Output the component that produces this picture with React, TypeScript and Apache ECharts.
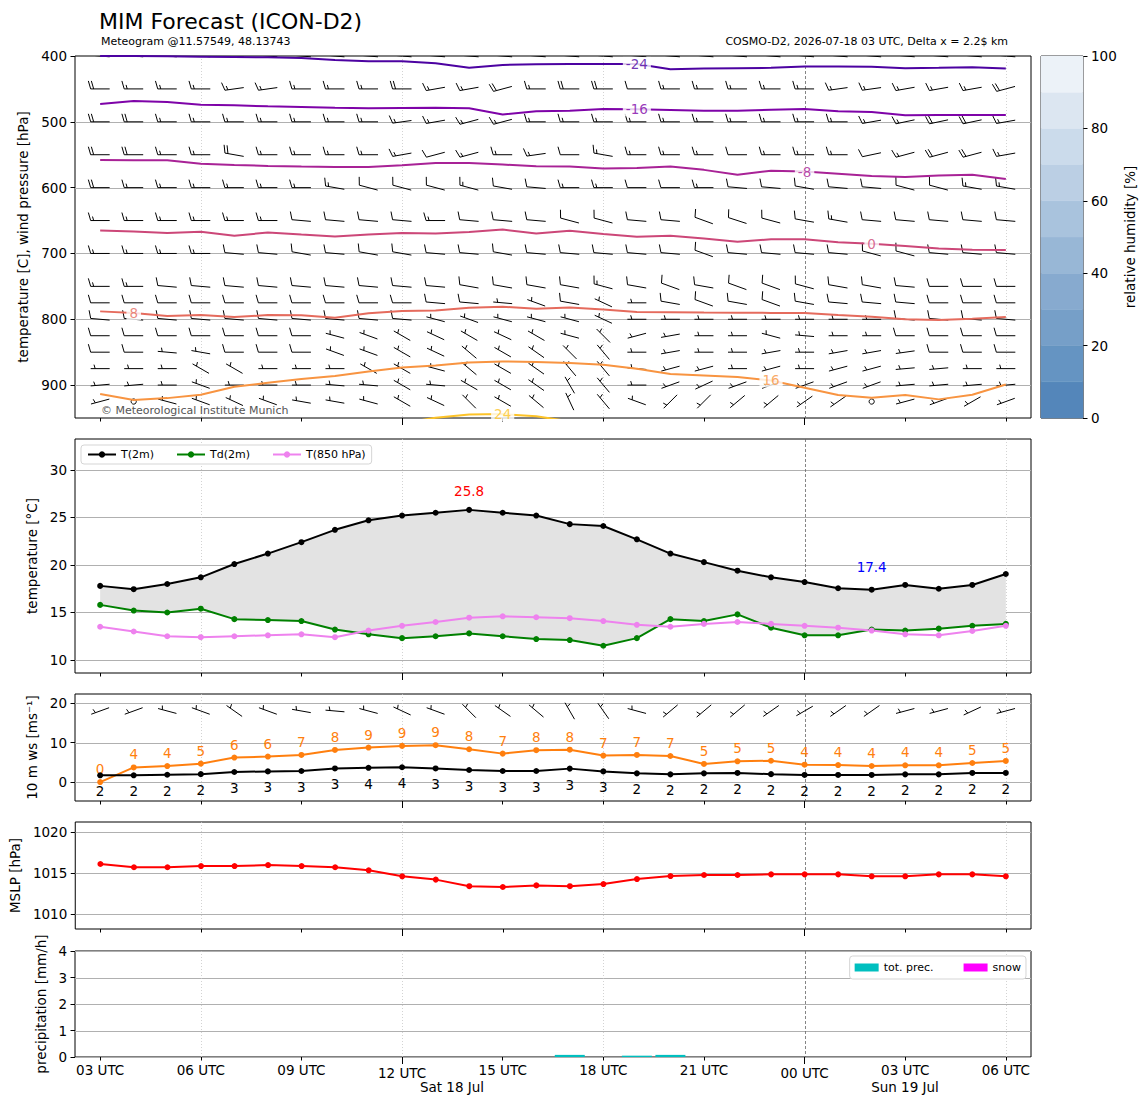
import React, { useEffect, useRef } from "react";
import * as echarts from "echarts";

const FONT = "DejaVu Sans";

// ---------- time axis ----------
const HOURS = [0,1,2,3,4,5,6,7,8,9,10,11,12,13,14,15,16,17,18,19,20,21,22,23,24,25,26,27];
const X_MIN = -0.75;
const X_MAX = 27.75;
const xMinorTickHours = [0, 3, 6, 12, 15, 18, 24, 27];
const xMajorTickHours = [9, 21];
const xLabelHours = [0, 3, 6, 9, 12, 15, 18, 21, 24, 27];
const xLabelTexts = ["03 UTC","06 UTC","09 UTC","12 UTC","15 UTC","18 UTC","21 UTC","00 UTC","03 UTC","06 UTC"];
const vGridDotted = [3, 9, 15, 27];
const vGridDashed = [21];

// ---------- tick values ----------
const pTicks = [400, 500, 600, 700, 800, 900];
const pGrid = [500, 600, 700, 800, 900];
const tTicks = [10, 15, 20, 25, 30];
const wsTicks = [0, 10, 20];
const mslpTicks = [1010, 1015, 1020];
const prTicks = [0, 1, 2, 3, 4];
const rhTicks = [0, 20, 40, 60, 80, 100];

// ---------- surface series ----------
const t2m = [17.8,17.45,18.0,18.7,20.1,21.2,22.4,23.7,24.7,25.2,25.5,25.8,25.5,25.2,24.3,24.1,22.7,21.2,20.3,19.4,18.7,18.2,17.55,17.4,17.9,17.5,17.9,19.05];
const td2m = [15.8,15.2,15.0,15.4,14.3,14.2,14.1,13.2,12.7,12.3,12.5,12.8,12.5,12.2,12.1,11.5,12.3,14.3,14.1,14.8,13.4,12.6,12.6,13.2,13.1,13.3,13.6,13.8];
const t850 = [13.5,13.0,12.5,12.4,12.5,12.6,12.7,12.4,13.1,13.6,14.0,14.45,14.6,14.5,14.4,14.1,13.7,13.5,13.8,14.0,13.8,13.6,13.4,13.1,12.7,12.6,13.05,13.6];
const tMaxIdx = 11;
const tMinIdx = 23;

const ws10 = [1.7,1.7,1.85,2.0,2.55,2.7,2.8,3.45,3.6,3.75,3.45,3.05,2.8,2.8,3.4,2.7,2.2,1.95,2.2,2.3,2.0,1.8,1.8,1.8,1.95,1.95,2.3,2.3];
const gust10 = [0.0,3.7,4.05,4.66,6.2,6.45,6.87,8.14,8.73,9.16,9.33,8.3,7.2,8.07,8.2,6.7,6.87,6.6,4.58,5.26,5.4,4.4,4.3,4.07,4.24,4.24,4.83,5.34];
const w10dir = [250,250,285,290,305,290,280,275,285,295,290,315,305,310,330,325,285,230,230,230,235,240,235,235,255,255,245,255];
const w10kt = [5,5,5,5,5,5,5,5,5,5,5,5,5,5,5,5,5,5,5,5,5,5,5,5,5,5,5,5];
const w10BarbLevel = 18;

const mslp = [1016.1,1015.7,1015.7,1015.85,1015.85,1015.97,1015.85,1015.7,1015.33,1014.6,1014.2,1013.4,1013.3,1013.5,1013.4,1013.66,1014.27,1014.63,1014.76,1014.76,1014.84,1014.84,1014.84,1014.6,1014.6,1014.84,1014.84,1014.6];

const precip = [0,0,0,0,0,0,0,0,0,0,0,0,0,0,0.08,0,0.05,0.08,0,0,0,0,0,0,0,0,0,0];
const snow = [0,0,0,0,0,0,0,0,0,0,0,0,0,0,0,0,0,0,0,0,0,0,0,0,0,0,0,0];

// ---------- temperature contours (pressure of isotherm per hour) ----------
const cM24 = [400,400,400.5,401,401.5,402,403,406,408,408,411,418,413.5,412.5,412,412,412,420,419,418.5,418,416,416,416.5,418.5,418,417,419];
const cM16 = [473,468.4,470,474,475,476.4,477.5,478.6,479.5,479,478.6,479.5,489,484,483,480.5,481,482,483,483,481.6,480.5,484,485,490,489.7,489.7,489.7];
const cM8 = [558,558.4,558.5,563.7,565.6,567,568,568.7,568.7,566,562.6,562.6,565,567.6,568,571,570,568,573,580.4,574.3,575.5,579,582.4,584,581.6,580.4,587];
const c0 = [665.2,666.7,669,667,673,668.2,671.3,674.3,671.3,669,669.8,667.5,663.7,669.8,665.5,670.5,674.6,673,677.4,682.2,678.6,678.6,683,685.3,688.8,692.5,694.5,694.8];
const c8 = [788,790.6,795,793.6,796.7,793.6,794,797.7,791,787.5,786.5,782.5,781,784,782,785,789,789.4,789.8,790,790.3,790.6,793.6,796,800,801.2,799.2,796.7];
const c16 = [913.7,922.8,919.8,914.7,902.6,896.5,890.9,886.3,879.2,873.1,870.1,865.5,864,865,866.6,869.2,875.2,883.3,885.3,887.8,893,904,915.2,919.3,915.2,921.7,914.7,899];
const c24 = [null,null,null,null,null,null,null,null,null,958,949.6,944.5,944,947.5,955,null,null,null,null,null,null,null,null,null,null,null,null,null];
const contourLevels = [-24, -16, -8, 0, 8, 16, 24];
const contourColors = ["#4c02a1", "#7e03a8", "#a82296", "#cc4778", "#e56b5d", "#f89441", "#fdc328"];
const contourLabelHour = [16, 16, 21, 23, 1, 20, 12];

// ---------- upper-air winds (direction deg, speed kt) ----------
const windLevels = [400, 450, 500, 550, 600, 650, 700, 750, 775, 800, 825, 850, 875, 900, 925];
const wdir400 = [275,275,275,275,275,275,275,275,275,275,275,275,275,275,275,275,275,275,275,275,275,275,275,275,275,275,275,275];
const wspd400 = [30,30,30,30,30,30,30,30,30,30,30,30,30,30,30,30,30,30,30,30,30,30,30,30,30,30,30,30];
const wdir450 = [270,270,270,270,262,262,270,270,270,270,260,260,255,270,270,270,270,270,270,270,270,270,262,262,260,260,260,255];
const wspd450 = [20,15,15,15,15,15,15,15,15,20,15,15,20,15,20,20,10,15,15,15,15,15,15,15,15,15,15,20];
const wdir500 = [270,270,270,270,270,270,270,270,270,262,260,255,255,270,270,270,270,270,270,270,270,270,270,260,258,258,258,260];
const wspd500 = [20,20,15,15,15,15,15,15,15,15,15,15,15,15,15,15,15,15,15,15,15,15,15,15,15,20,20,15];
const wdir550 = [270,270,270,270,280,270,270,270,270,260,255,255,270,262,270,280,270,270,270,270,270,270,270,258,255,255,255,260];
const wspd550 = [20,20,15,15,20,15,15,15,15,15,10,15,15,15,10,15,15,15,15,10,15,15,15,10,15,20,20,15];
const wdir600 = [270,270,270,270,270,270,270,280,285,285,285,285,280,275,270,270,270,270,270,275,275,280,275,275,285,285,280,280];
const wspd600 = [20,15,15,15,15,15,15,15,10,10,10,15,10,10,15,15,10,10,15,10,10,10,10,10,10,10,15,15];
const wdir650 = [270,270,270,270,270,270,275,275,275,275,270,275,275,275,285,285,275,275,290,288,285,280,280,275,275,275,275,275];
const wspd650 = [15,15,15,15,15,15,10,10,10,10,15,10,10,10,10,10,10,10,10,10,10,10,15,10,10,10,10,10];
const wdir700 = [270,270,270,270,275,275,280,275,280,280,275,275,280,275,275,275,275,275,290,275,275,275,275,285,285,275,275,275];
const wspd700 = [15,15,15,15,10,10,10,10,10,10,10,10,10,10,10,10,10,10,10,10,10,10,10,10,10,10,10,10];
const wdir750 = [270,270,275,275,275,275,275,275,275,275,275,280,280,280,280,285,280,290,280,290,290,285,280,280,275,270,270,270];
const wspd750 = [15,15,10,10,10,10,10,10,10,10,10,10,10,10,10,15,10,10,10,10,10,10,10,10,10,10,10,10];
const wdir775 = [270,270,270,270,270,270,270,270,270,270,275,275,275,290,280,295,270,280,290,280,290,280,275,275,275,270,270,270];
const wspd775 = [10,10,10,10,10,10,10,10,10,10,10,10,5,5,10,5,5,10,10,10,10,10,10,10,10,10,10,10];
const wdir800 = [275,275,275,275,275,275,275,275,275,275,285,290,285,285,285,295,270,270,270,270,270,270,270,270,275,275,275,275];
const wspd800 = [10,10,10,10,10,10,10,10,10,10,5,5,5,5,5,5,5,5,5,5,5,5,5,5,10,10,10,10];
const wdir825 = [270,270,270,270,270,270,270,285,290,300,295,300,295,300,285,315,255,260,270,270,285,275,270,270,270,270,270,270];
const wspd825 = [10,10,10,10,10,10,10,5,5,5,5,5,5,5,5,5,5,5,5,5,5,5,5,5,10,10,10,10];
const wdir850 = [270,270,275,280,270,270,270,290,290,300,295,310,300,305,315,320,270,260,270,270,260,270,260,260,262,270,270,270];
const wspd850 = [10,10,5,5,10,10,10,5,5,5,5,5,5,5,5,5,5,5,5,5,5,5,5,5,5,10,10,10];
const wdir875 = [270,270,270,300,300,270,270,270,300,300,285,310,300,305,320,320,275,255,255,270,255,270,255,255,265,265,270,270];
const wspd875 = [5,5,5,5,5,5,5,5,5,5,5,5,5,5,5,5,5,5,5,5,5,5,5,5,5,5,5,5];
const wdir900 = [265,265,270,290,270,270,270,275,275,300,275,300,300,305,330,320,270,250,245,250,250,250,250,250,265,265,265,265];
const wspd900 = [5,5,5,5,5,5,5,5,5,5,5,5,5,5,5,5,5,5,5,5,5,5,5,5,5,5,5,5];
const wdir925 = [255,0,285,290,295,290,280,280,285,300,295,315,300,310,335,320,290,225,225,230,230,235,235,0,255,250,240,250];
const wspd925 = [5,0,5,5,5,5,5,5,5,5,5,5,5,5,5,5,5,5,5,5,5,5,5,0,5,5,5,5];

const windDirRows = [wdir400, wdir450, wdir500, wdir550, wdir600, wdir650, wdir700, wdir750, wdir775, wdir800, wdir825, wdir850, wdir875, wdir900, wdir925];
const windSpdRows = [wspd400, wspd450, wspd500, wspd550, wspd600, wspd650, wspd700, wspd750, wspd775, wspd800, wspd825, wspd850, wspd875, wspd900, wspd925];

// ---------- relative humidity colorbar ----------
const rhBounds = [0, 10, 20, 30, 40, 50, 60, 70, 80, 90, 100];
const rhColors = ["#5486ba", "#6594c2", "#769fc8", "#87aacf", "#98b7d6", "#a9c3dd", "#bbcfe4", "#cbdbeb", "#dce6f1", "#ecf2f8"];

// ---------- helpers ----------
function barbChildren(cx: number, cy: number, dir: number, spd: number) {
  const L = 19, H = 8, W = 2.3, S = 3;
  const st = { stroke: "#000", lineWidth: 1, fill: "none" };
  if (spd < 2.5) return [{ type: "circle", shape: { cx, cy, r: 2.6 }, style: st }];
  const r = (dir * Math.PI) / 180;
  const ux = Math.sin(r), uy = -Math.cos(r);
  const nx = -uy, ny = ux;
  const bx = cx + (ux * L) / 2, by = cy + (uy * L) / 2;
  const ax = cx - (ux * L) / 2, ay = cy - (uy * L) / 2;
  const kids: any[] = [{ type: "line", shape: { x1: ax, y1: ay, x2: bx, y2: by }, style: st }];
  let rem = Math.round(spd / 5) * 5;
  const flags = Math.floor(rem / 50); rem -= flags * 50;
  const full = Math.floor(rem / 10); rem -= full * 10;
  const half = rem >= 5 ? 1 : 0;
  let pos = 0;
  for (let i = 0; i < flags; i++) {
    const px = bx - ux * pos, py = by - uy * pos;
    const qx = bx - ux * (pos + 2 * S), qy = by - uy * (pos + 2 * S);
    kids.push({ type: "polygon", shape: { points: [[px, py], [px + nx * H, py + ny * H], [qx, qy]] }, style: { fill: "#000", stroke: "#000", lineWidth: 1 } });
    pos += 2.5 * S;
  }
  for (let i = 0; i < full; i++) {
    const px = bx - ux * pos, py = by - uy * pos;
    kids.push({ type: "line", shape: { x1: px, y1: py, x2: px + nx * H + ux * W, y2: py + ny * H + uy * W }, style: st });
    pos += S;
  }
  if (half) {
    if (flags + full === 0) pos += 1.5 * S;
    const px = bx - ux * pos, py = by - uy * pos;
    kids.push({ type: "line", shape: { x1: px, y1: py, x2: px + (nx * H) / 2 + (ux * W) / 2, y2: py + (ny * H) / 2 + (uy * W) / 2 }, style: st });
  }
  return kids;
}

function labelForHour(v: number) {
  const i = xLabelHours.indexOf(Math.round(v));
  return i >= 0 ? xLabelTexts[i] : "";
}

function makeXAxes(gi: number, withLabels: boolean) {
  const base: any = {
    type: "value", gridIndex: gi, min: X_MIN, max: X_MAX, position: "bottom",
    axisLine: { show: false, onZero: false }, splitLine: { show: false },
  };
  const lab = (vals: number[], margin: number) =>
    withLabels
      ? { show: true, customValues: vals, formatter: (v: number) => labelForHour(v), margin, color: "#000", fontSize: 13.5, fontFamily: FONT }
      : { show: false };
  return [
    { ...base, axisTick: { show: true, customValues: xMinorTickHours, length: 3.5, lineStyle: { color: "#000", width: 1 } }, axisLabel: lab(xMinorTickHours, 6) },
    { ...base, axisTick: { show: true, customValues: xMajorTickHours, length: 7, lineStyle: { color: "#000", width: 1 } }, axisLabel: lab(xMajorTickHours, 9) },
  ];
}

function makeYAxis(gi: number, min: number, max: number, ticks: number[], name: string, nameGap: number, extra: any = {}) {
  return {
    type: "value", gridIndex: gi, min, max, position: "left",
    axisLine: { show: false, onZero: false }, splitLine: { show: false },
    axisTick: { show: true, customValues: ticks, length: 4.5, lineStyle: { color: "#000", width: 1 } },
    axisLabel: { show: true, customValues: ticks, margin: 8, color: "#000", fontSize: 13.5, fontFamily: FONT, formatter: (v: number) => String(v) },
    name, nameLocation: "middle", nameGap,
    nameTextStyle: { color: "#000", fontSize: 13.5, fontFamily: FONT },
    ...extra,
  };
}

function hGrid(gi: number, values: number[]) {
  return {
    type: "custom", xAxisIndex: gi * 2, yAxisIndex: gi, z: 0, silent: true,
    data: values.map((v) => [0, v]),
    renderItem: (params: any, api: any) => {
      const cs = params.coordSys;
      const y = Math.round(api.coord([0, api.value(1)])[1]) + 0.5;
      return { type: "line", shape: { x1: cs.x, y1: y, x2: cs.x + cs.width, y2: y }, style: { stroke: "#b0b0b0", lineWidth: 1 } };
    },
  };
}

function vGrid(gi: number, yRef: number) {
  return [
    {
      type: "custom", xAxisIndex: gi * 2, yAxisIndex: gi, z: 0, silent: true,
      data: vGridDotted.map((h) => [h, yRef]),
      renderItem: (params: any, api: any) => {
        const cs = params.coordSys;
        const x = Math.round(api.coord([api.value(0), yRef])[0]) + 0.5;
        return { type: "line", shape: { x1: x, y1: cs.y, x2: x, y2: cs.y + cs.height }, style: { stroke: "#c8c8c8", lineWidth: 0.8, lineDash: [1, 2] } };
      },
    },
    {
      type: "custom", xAxisIndex: gi * 2, yAxisIndex: gi, z: 0, silent: true,
      data: vGridDashed.map((h) => [h, yRef]),
      renderItem: (params: any, api: any) => {
        const cs = params.coordSys;
        const x = Math.round(api.coord([api.value(0), yRef])[0]) + 0.5;
        return { type: "line", shape: { x1: x, y1: cs.y, x2: x, y2: cs.y + cs.height }, style: { stroke: "#666", lineWidth: 0.8, lineDash: [3, 2] } };
      },
    },
  ];
}

function barbSeries(gi: number, data: number[][]) {
  return {
    type: "custom", xAxisIndex: gi * 2, yAxisIndex: gi, z: 2, silent: true, clip: true,
    data, encode: { x: 0, y: 1 },
    renderItem: (params: any, api: any) => {
      const c = api.coord([api.value(0), api.value(1)]);
      return { type: "group", children: barbChildren(c[0], c[1], api.value(2), api.value(3)) };
    },
  };
}

function pairs(arr: (number | null)[]) {
  const out: number[][] = [];
  arr.forEach((v, i) => { if (v !== null) out.push([HOURS[i], v as number]); });
  return out;
}

export default function App() {
  const ref = useRef<HTMLDivElement>(null);
  useEffect(() => {
    if (!ref.current) return;
    const chart = echarts.init(ref.current, undefined, { renderer: "svg" });

    const grids = [
      { left: 75, top: 56, width: 956, height: 362 },
      { left: 75, top: 439, width: 956, height: 234 },
      { left: 75, top: 694, width: 956, height: 107 },
      { left: 75, top: 822, width: 956, height: 107 },
      { left: 75, top: 951, width: 956, height: 106 },
      { left: 1041, top: 56, width: 42, height: 362 },
    ].map((g) => ({ ...g, show: true, borderColor: "#000", borderWidth: 1, backgroundColor: "transparent", containLabel: false }));

    const xAxis: any[] = [
      ...makeXAxes(0, false),
      ...makeXAxes(1, false),
      ...makeXAxes(2, false),
      ...makeXAxes(3, false),
      ...makeXAxes(4, true),
      { type: "value", gridIndex: 5, min: 0, max: 1, show: false },
    ];

    const yAxis: any[] = [
      makeYAxis(0, 400, 950, pTicks, "temperature [C], wind pressure [hPa]", 43, { inverse: true }),
      makeYAxis(1, 8.63, 33.26, tTicks, "temperature [°C]", 36),
      makeYAxis(2, -4.8, 22.3, wsTicks, "10 m ws [ms⁻¹]", 36),
      makeYAxis(3, 1008.2, 1021.2, mslpTicks, "MSLP [hPa]", 52),
      makeYAxis(4, 0, 4, prTicks, "precipitation [mm/h]", 25),
      {
        type: "value", gridIndex: 5, min: 0, max: 100, position: "right",
        axisLine: { show: false, onZero: false }, splitLine: { show: false },
        axisTick: { show: true, customValues: rhTicks, length: 4.5, lineStyle: { color: "#000" } },
        axisLabel: { show: true, customValues: rhTicks, margin: 8, color: "#000", fontSize: 13.5, fontFamily: FONT, formatter: (v: number) => String(v) },
        name: "relative humidity [%]", nameLocation: "middle", nameGap: 40, nameRotate: 90,
        nameTextStyle: { color: "#000", fontSize: 13.5, fontFamily: FONT },
      },
    ];

    const contourArrays = [cM24, cM16, cM8, c0, c8, c16, c24];

    const series: any[] = [];
    // grid lines
    series.push(hGrid(0, pGrid), ...vGrid(0, 700));
    series.push(hGrid(1, tTicks), ...vGrid(1, 20));
    series.push(hGrid(2, wsTicks), ...vGrid(2, 10));
    series.push(hGrid(3, mslpTicks), ...vGrid(3, 1015));
    series.push(hGrid(4, prTicks), ...vGrid(4, 2));

    // upper-air barbs
    const barbData: number[][] = [];
    windLevels.forEach((p, li) => {
      HOURS.forEach((h, i) => barbData.push([h, p, windDirRows[li][i], windSpdRows[li][i]]));
    });
    series.push(barbSeries(0, barbData));

    // contours
    contourArrays.forEach((arr, k) => {
      series.push({
        type: "line", name: "c" + contourLevels[k], xAxisIndex: 0, yAxisIndex: 0, z: 3, silent: true,
        data: pairs(arr), showSymbol: false, symbol: "none", clip: true,
        lineStyle: { color: contourColors[k], width: 2 },
      });
    });
    series.push({
      type: "scatter", xAxisIndex: 0, yAxisIndex: 0, z: 5, silent: true, symbolSize: 1,
      itemStyle: { color: "rgba(0,0,0,0)" },
      data: contourLevels.map((lev, k) => {
        const h = contourLabelHour[k];
        return {
          value: [h, contourArrays[k][h] as number],
          label: {
            show: true, position: "inside", formatter: String(lev), color: contourColors[k],
            fontSize: 13.5, fontFamily: FONT, backgroundColor: "#fff", padding: [0, 3],
          },
        };
      }),
    });

    // temperature panel: band between T(2m) and Td(2m)
    series.push({
      type: "custom", xAxisIndex: 2, yAxisIndex: 1, z: 1, silent: true, clip: true,
      data: [[HOURS[0], t2m[0]]],
      renderItem: (params: any, api: any) => {
        const pts: number[][] = [];
        HOURS.forEach((h, i) => pts.push(api.coord([h, t2m[i]])));
        for (let i = HOURS.length - 1; i >= 0; i--) pts.push(api.coord([HOURS[i], td2m[i]]));
        return { type: "polygon", shape: { points: pts }, style: { fill: "#e3e3e3" } };
      },
    });
    series.push({
      type: "line", name: "T(2m)", xAxisIndex: 2, yAxisIndex: 1, z: 4,
      symbol: "circle", symbolSize: 6, color: "#000", lineStyle: { width: 2, color: "#000" },
      data: HOURS.map((h, i) => {
        if (i === tMaxIdx)
          return { value: [h, t2m[i]], label: { show: true, position: "top", distance: 9, color: "#ff0000", fontSize: 13.5, fontFamily: FONT, formatter: t2m[i].toFixed(1) } };
        if (i === tMinIdx)
          return { value: [h, t2m[i]], label: { show: true, position: "top", distance: 13, color: "#0000ff", fontSize: 13.5, fontFamily: FONT, formatter: t2m[i].toFixed(1) } };
        return [h, t2m[i]];
      }),
    });
    series.push({
      type: "line", name: "Td(2m)", xAxisIndex: 2, yAxisIndex: 1, z: 3,
      symbol: "circle", symbolSize: 6, color: "#008000", lineStyle: { width: 2, color: "#008000" },
      data: HOURS.map((h, i) => [h, td2m[i]]),
    });
    series.push({
      type: "line", name: "T(850 hPa)", xAxisIndex: 2, yAxisIndex: 1, z: 3,
      symbol: "circle", symbolSize: 6, color: "#ee82ee", lineStyle: { width: 2, color: "#ee82ee" },
      data: HOURS.map((h, i) => [h, t850[i]]),
    });

    // wind panel
    series.push(barbSeries(2, HOURS.map((h, i) => [h, w10BarbLevel, w10dir[i], w10kt[i]])));
    series.push({
      type: "line", name: "gust", xAxisIndex: 4, yAxisIndex: 2, z: 3,
      symbol: "circle", symbolSize: 6, color: "#ff7f0e", lineStyle: { width: 2, color: "#ff7f0e" },
      data: HOURS.map((h, i) => [h, gust10[i]]),
      label: { show: true, position: "top", distance: 3, color: "#ff7f0e", fontSize: 13.5, fontFamily: FONT, formatter: (p: any) => String(Math.round(p.value[1])) },
    });
    series.push({
      type: "line", name: "ws", xAxisIndex: 4, yAxisIndex: 2, z: 4,
      symbol: "circle", symbolSize: 6, color: "#000", lineStyle: { width: 2, color: "#000" },
      data: HOURS.map((h, i) => [h, ws10[i]]),
      label: { show: true, position: "bottom", distance: 6, color: "#000", fontSize: 13.5, fontFamily: FONT, formatter: (p: any) => String(Math.round(p.value[1])) },
    });

    // MSLP
    series.push({
      type: "line", name: "MSLP", xAxisIndex: 6, yAxisIndex: 3, z: 3,
      symbol: "circle", symbolSize: 6, color: "#ff0000", lineStyle: { width: 2, color: "#ff0000" },
      data: HOURS.map((h, i) => [h, mslp[i]]),
    });

    // precipitation
    series.push({
      type: "bar", name: "tot. prec.", xAxisIndex: 8, yAxisIndex: 4, z: 3, barWidth: 30, barGap: "-100%",
      color: "#00bfbf", data: HOURS.map((h, i) => [h, precip[i]]),
    });
    series.push({
      type: "bar", name: "snow", xAxisIndex: 8, yAxisIndex: 4, z: 3, barWidth: 30, barGap: "-100%",
      color: "#ff00ff", data: HOURS.map((h, i) => [h, snow[i]]),
    });

    // colorbar
    series.push({
      type: "custom", xAxisIndex: 10, yAxisIndex: 5, silent: true, z: 2,
      data: rhColors.map((_, i) => [i, rhBounds[i], rhBounds[i + 1]]),
      renderItem: (params: any, api: any) => {
        const p0 = api.coord([0, api.value(1)]);
        const p1 = api.coord([1, api.value(2)]);
        return {
          type: "rect",
          shape: { x: p0[0], y: p1[1], width: p1[0] - p0[0], height: p0[1] - p1[1] },
          style: { fill: rhColors[api.value(0)], stroke: rhColors[api.value(0)], lineWidth: 0.5 },
        };
      },
    });

    const txt = (text: string, x: number, y: number, size: number, align = "left", fill = "#000") => ({
      type: "text", x, y, silent: true, z: 10,
      style: { text, fill, fontSize: size, fontFamily: FONT, align, verticalAlign: "middle" },
    });

    chart.setOption({
      animation: false,
      backgroundColor: "#fff",
      textStyle: { fontFamily: FONT },
      grid: grids,
      xAxis,
      yAxis,
      legend: [
        {
          data: ["T(2m)", "Td(2m)", "T(850 hPa)"], left: 81, top: 445, orient: "horizontal",
          itemWidth: 28, itemHeight: 8, itemGap: 22, padding: [4, 6], selectedMode: false,
          borderColor: "#d5d5d5", borderWidth: 1, borderRadius: 3, backgroundColor: "#fff",
          textStyle: { fontSize: 11, color: "#000", fontFamily: FONT },
        },
        {
          data: [{ name: "tot. prec.", icon: "rect" }, { name: "snow", icon: "rect" }], right: 122, top: 956, orient: "horizontal",
          itemWidth: 24, itemHeight: 8, itemGap: 30, padding: [6, 5], selectedMode: false,
          borderColor: "#d5d5d5", borderWidth: 1, borderRadius: 3, backgroundColor: "#fff",
          textStyle: { fontSize: 11, color: "#000", fontFamily: FONT },
        },
      ],
      graphic: [
        txt("MIM Forecast (ICON-D2)", 99, 21, 22),
        txt("Meteogram @11.57549, 48.13743", 101, 41, 11),
        txt("COSMO-D2, 2026-07-18 03 UTC, Delta x = 2.2$ km", 1008, 41, 11, "right"),
        txt("© Meteorological Institute Munich", 101, 410, 11, "left", "#555"),
        txt("Sat 18 Jul", 452, 1087, 13.5, "center"),
        txt("Sun 19 Jul", 905, 1087, 13.5, "center"),
      ],
      series,
    });
    return () => chart.dispose();
  }, []);
  return <div ref={ref} style={{ position: "absolute", left: 0, top: 0, width: 1148, height: 1105 }} />;
}
